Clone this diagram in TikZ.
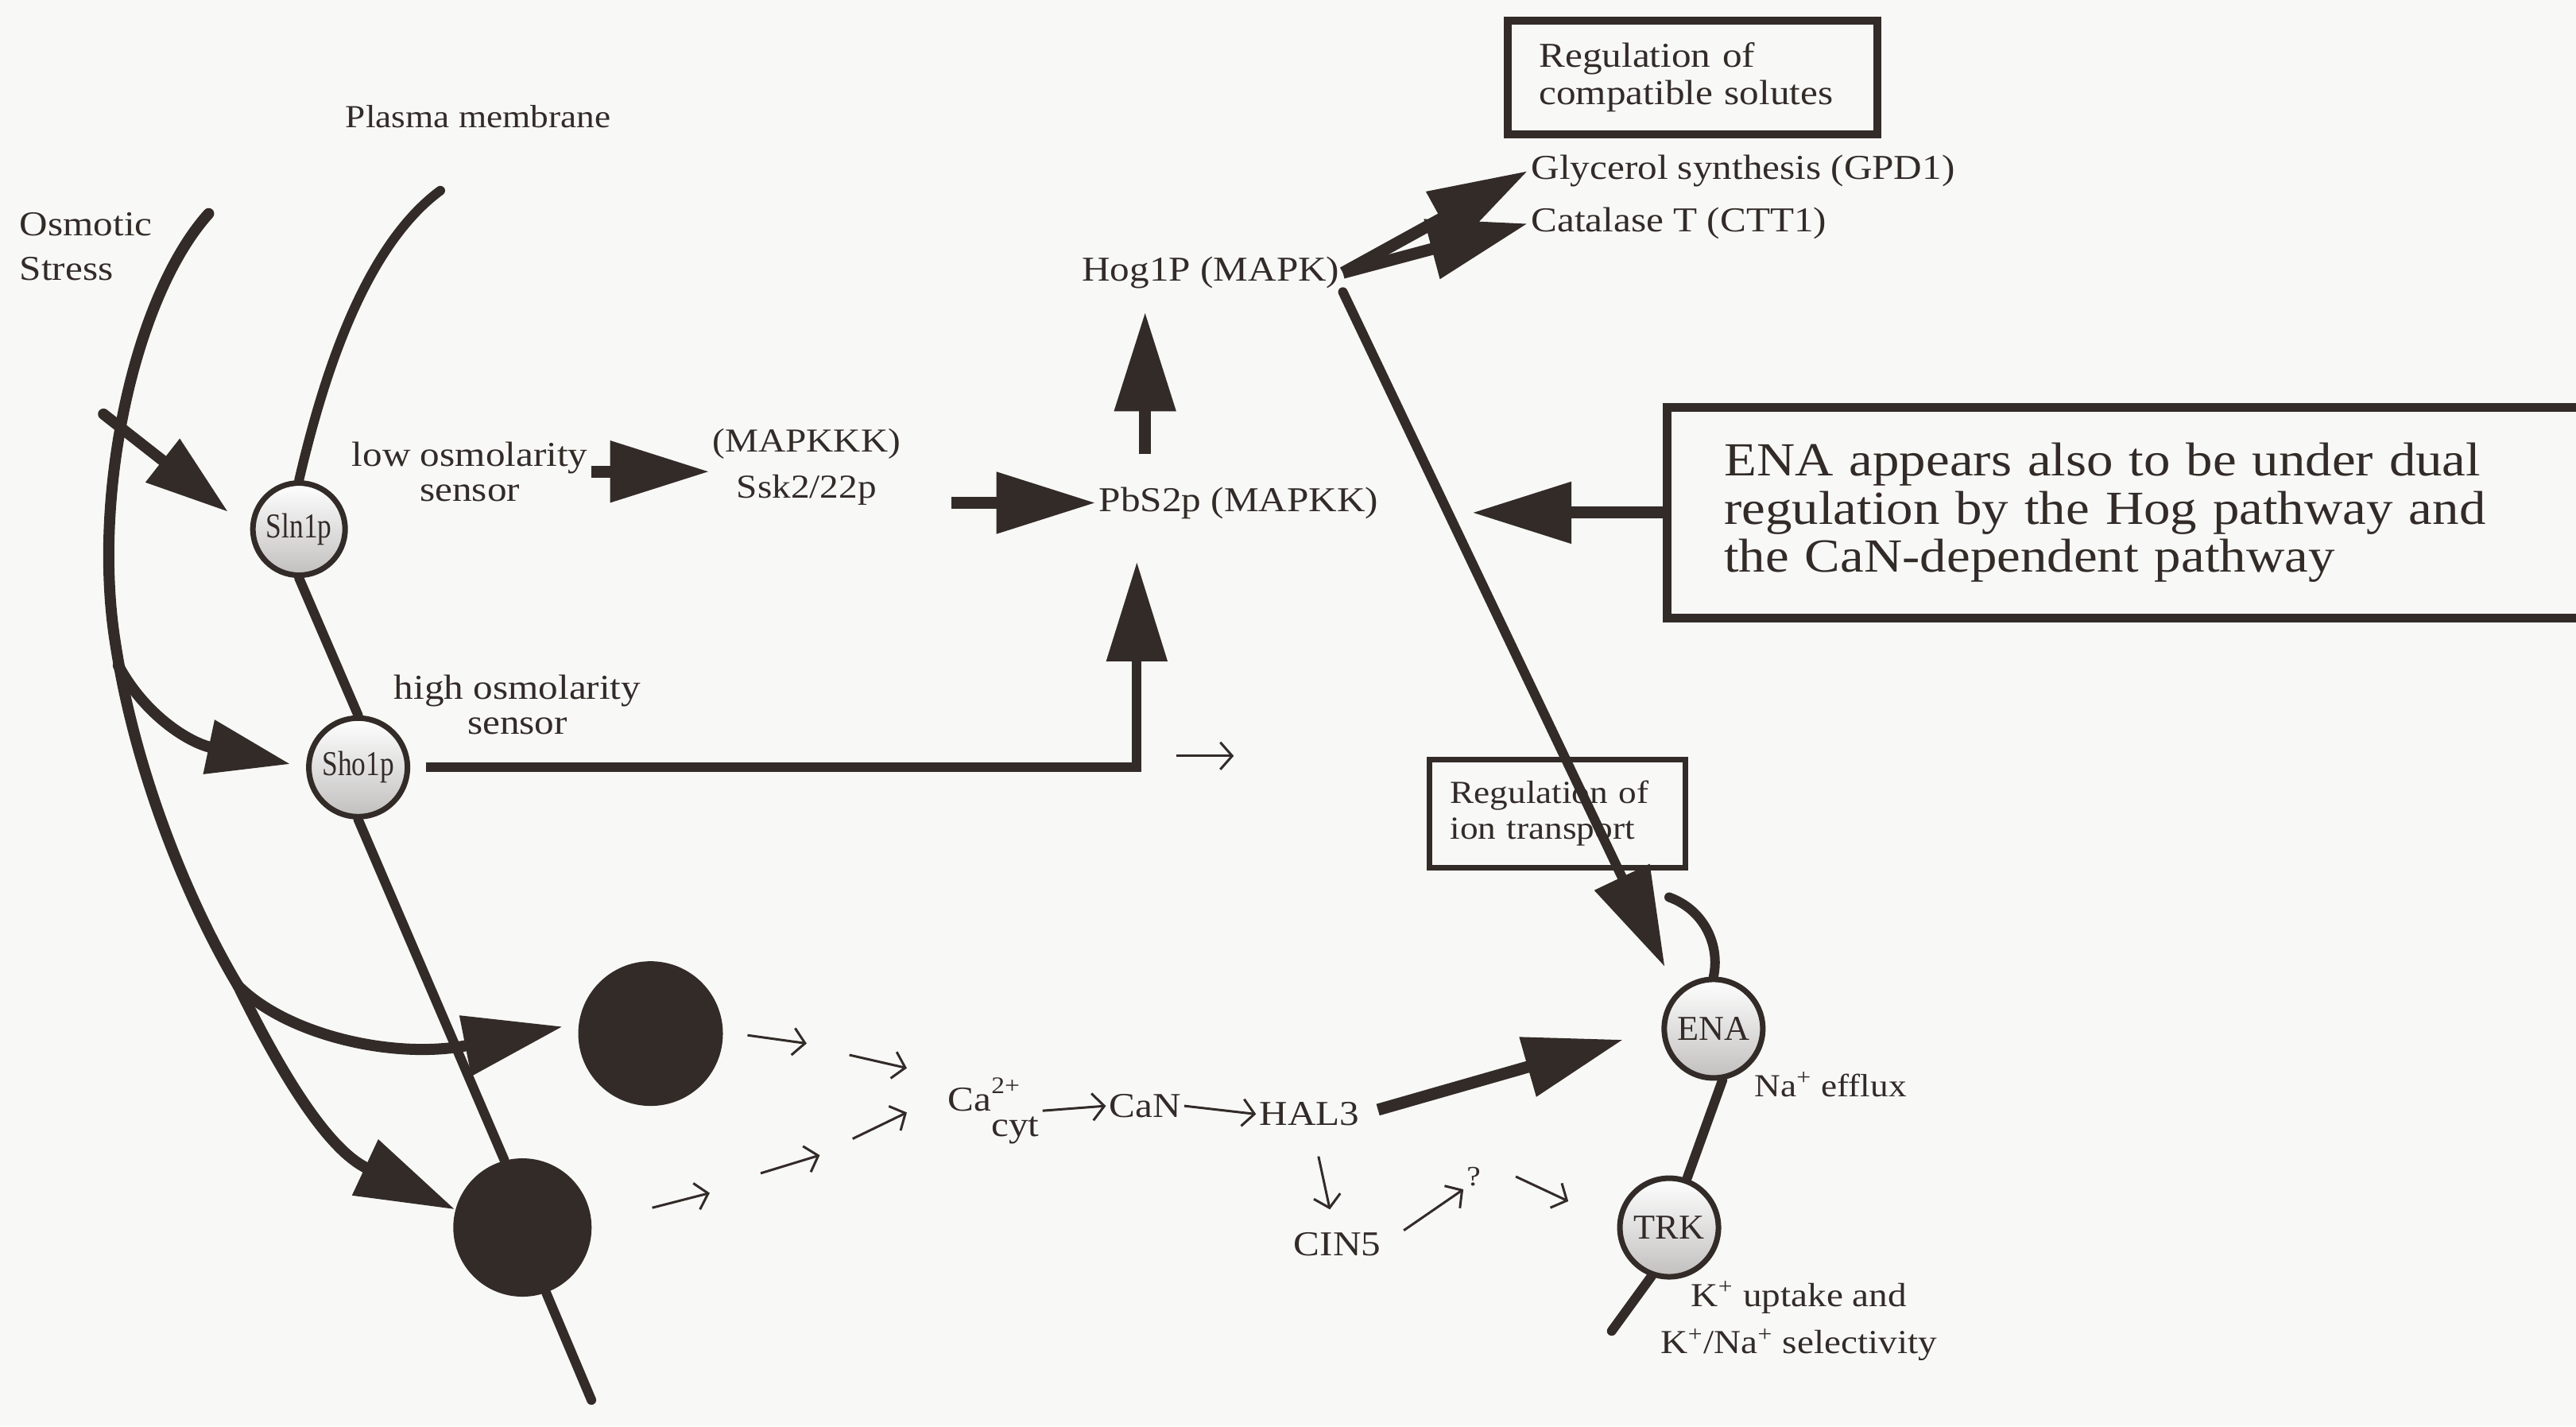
\documentclass[tikz,border=0pt]{standalone}
\usepackage{fontspec}
\setmainfont{Liberation Serif}[FakeStretch=1.12]
\usepackage{graphicx}
\usetikzlibrary{arrows.meta, positioning}

\definecolor{ink}{RGB}{50,43,40}
\definecolor{paper}{RGB}{248,248,246}

\newcommand{\labfont}{\fontsize{12.5}{13.5}\selectfont}
\newcommand{\squeezed}[2][0.72]{\scalebox{#1}[1]{#2}}

\begin{document}
\begin{tikzpicture}[
    x=0.2067mm, y=-0.2067mm,
    every node/.style={font=\labfont, text=ink, inner sep=1pt},
    sensor/.style={circle, draw=ink, line width=0.7mm, minimum size=11.6mm,
        inner sep=0pt, top color=white, bottom color=ink!30},
    blob/.style={circle, fill=ink, inner sep=0pt},
    membrane/.style={draw=ink, line width=1.2mm, line cap=round},
    stress/.style={draw=ink, line width=1.4mm, line cap=round},
    tipL/.style={-{Triangle[length=12.5mm, width=7.4mm]}},
    tipM/.style={-{Triangle[length=10.5mm, width=6.6mm]}},
    bigarrow/.style={draw=ink, line width=1.5mm, tipL},
    thinarrow/.style={draw=ink, line width=0.3mm,
        -{Straight Barb[length=1.5mm, width=3.4mm]}},
    regbox/.style={draw=ink, line width=0.9mm, align=left},
]

\fill[paper] (0,0) rectangle (1568,868);
\useasboundingbox (0,0) rectangle (1568,868);

% receptors in the plasma membrane
\node[sensor] (sln) at (182,322) {\squeezed{Sln1p}};
\node[sensor, minimum size=12.4mm] (sho) at (218,467) {\squeezed{Sho1p}};
\node[blob, minimum size=18.2mm] (cirA) at (396,629) {};
\node[blob, minimum size=17.4mm] (cirB) at (318,747) {};

% labels, left part
\node[align=left, anchor=west, font=\fontsize{12.5}{16}\selectfont] (osm) at (10,150) {Osmotic\\Stress};
\node[font=\fontsize{11.5}{13}\selectfont] (plasma) at (291,71) {Plasma membrane};
\node[align=center, font=\fontsize{12.5}{12.5}\selectfont] (lowsens) at (286,287) {low osmolarity\\sensor};
\node[align=center, font=\fontsize{12.5}{12.5}\selectfont] (highsens) at (315,429) {high osmolarity\\sensor};
\node[align=center, font=\fontsize{12}{16.5}\selectfont] (ssk) at (491,284) {(MAPKKK)\\Ssk2/22p};
\node (pbs) at (754,306) {PbS2p (MAPKK)};
\node (hog) at (737,166) {Hog1P (MAPK)};

% targets of the Hog pathway
\node[regbox, minimum width=46.5mm, minimum height=14.3mm, text width=38.5mm,
    inner xsep=3.5mm, line width=1mm] (compat) at (1030,47) {Regulation of\\compatible solutes};
\node[anchor=west] (gpd) at (930,104) {Glycerol synthesis (GPD1)};
\node[anchor=west] (ctt) at (930,136) {Catalase T (CTT1)};
\node[regbox, anchor=west, minimum height=26.5mm, text width=128mm, inner xsep=7.2mm,
    line width=1.1mm, font=\fontsize{17}{17.2}\selectfont] (enabox) at (1012,312)
    {ENA appears also to be under dual\\regulation by the Hog pathway and\\the CaN-dependent pathway};
\node[regbox, minimum width=32.2mm, minimum height=13.6mm, text width=27mm, inner xsep=2.6mm,
    line width=0.7mm, font=\fontsize{11.5}{13}\selectfont] (ionbox) at (948,495) {Regulation of\\ion transport};

% ion transporters
\node[sensor, minimum size=12.4mm] (ena) at (1043,626) {\squeezed[0.9]{ENA}};
\node[sensor, minimum size=12.4mm] (trk) at (1016,747) {\squeezed[0.9]{TRK}};
\node[anchor=west, font=\fontsize{11.5}{13}\selectfont] (naeff) at (1066,660) {Na\textsuperscript{+} efflux};
\node[align=center, font=\fontsize{12}{17}\selectfont] (kup) at (1095,804)
    {K\textsuperscript{+} uptake and\\K\textsuperscript{+}/Na\textsuperscript{+} selectivity};

% calcineurin branch
\node[anchor=base west] (ca) at (575,676)
    {Ca\rlap{\raisebox{1.1ex}{\fontsize{8.5}{9}\selectfont 2+}}\raisebox{-1.6ex}{cyt}};
\node (can) at (697,673) {CaN};
\node (hal) at (797,678) {HAL3};
\node (cin) at (814,757) {CIN5};
\node[font=\fontsize{10}{10}\selectfont] (unk) at (897,716) {?};

% plasma membrane
\coordinate (pmtop) at (268,116);
\coordinate (pmbot) at (360,852);
\draw[membrane] (pmtop) .. controls (222,150) and (197,228) .. (sln.north);
\draw[membrane] (sln.south) -- (sho.north);
\draw[membrane] (sho.south) -- (cirB.105);
\draw[membrane] (cirB.-70) -- (pmbot);

% osmotic stress input
\coordinate (ostop) at (127,130);
\coordinate (osplit) at (145,600);
\draw[stress] (ostop) .. controls (82,180) and (56,300) .. (70,390)
    .. controls (82,470) and (115,550) .. (osplit);
\draw[stress, tipM, shorten >=3.5mm] (63,252) -- (sln.west);
\draw[stress, tipM, shorten >=2mm] (72,405) .. controls (88,435) and (115,452) .. (sho.west);
\draw[stress, tipL] (osplit) .. controls (172,655) and (200,700) .. (cirB.165);
\draw[stress, tipL, shorten >=2mm] (osplit) .. controls (175,630) and (240,645) .. (cirA.172);

% MAP kinase cascade
\draw[bigarrow] (lowsens.east) -- (lowsens.east -| ssk.west);
\draw[bigarrow, shorten <=6mm] (ssk.east |- pbs.west) -- (pbs.west);
\coordinate (pbsfoot) at (692,342);
\draw[membrane, line cap=butt, tipL] ([xshift=2mm]sho.east) -| (pbsfoot);
\coordinate (hogfoot) at (697,276);
\draw[bigarrow, shorten >=2.5mm] (hogfoot) -- (hogfoot |- hog.south);

% outputs of Hog1p
\draw[bigarrow] (hog.east) -- (gpd.west);
\draw[bigarrow] (hog.east) -- (ctt.west);
\draw[membrane, tipL, shorten >=3.5mm] (hog.south east) -- (ena.135);
\coordinate (enatip) at (896,312);
\draw[bigarrow] (enabox.west) -- (enatip);

% membrane with the ion transporters
\coordinate (emtop) at (1016,546);
\coordinate (embot) at (981,810);
\draw[membrane] (emtop) .. controls (1038,554) and (1047,576) .. (ena.north);
\draw[membrane] (ena.-80) -- (trk.70);
\draw[membrane] (trk.-110) -- (embot);

% calcineurin arrows
\draw[thinarrow] (ca.east) -- (can.west);
\draw[thinarrow] (can.east) -- (hal.west);
\draw[bigarrow, shorten <=2mm, shorten >=5mm] (hal.east) -- (ena.west);
\draw[thinarrow, shorten <=3.5mm, shorten >=2.5mm] (hal) -- (cin);
\draw[thinarrow, shorten <=3mm] (cin.east) -- (unk.south west);
\draw[thinarrow] ([xshift=4mm]unk.east) -- ++(32,15);

% loose arrows from the channels
\foreach \s/\e in {{455,630}/{491,635}, {517,642}/{552,650}, {519,693}/{552,677},
    {463,714}/{499,703}, {397,735}/{432,726}, {716,460}/{751,460}}
    \draw[thinarrow] (\s) -- (\e);

\end{tikzpicture}
\end{document}
